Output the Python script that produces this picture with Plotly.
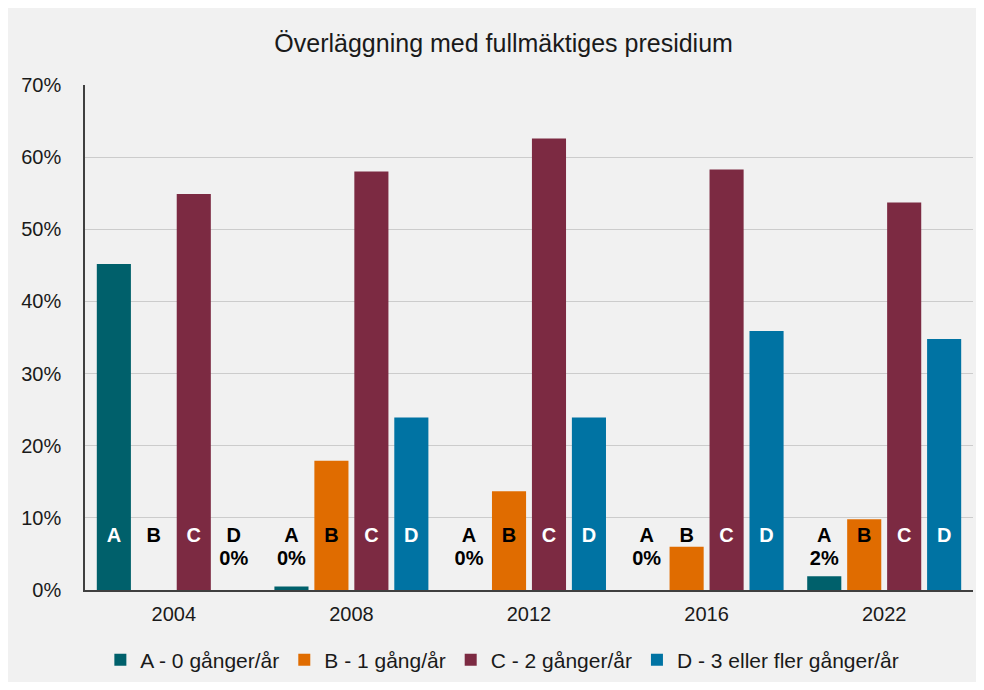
import plotly.graph_objects as go

years = ["2004", "2008", "2012", "2016", "2022"]
series_names = ["A - 0 gånger/år", "B - 1 gång/år", "C - 2 gånger/år", "D - 3 eller fler gånger/år"]
letters = ["A", "B", "C", "D"]
values_A = [45.2, 0.5, 0.0, 0.0, 1.9]
values_B = [0.0, 17.9, 13.7, 6.0, 9.8]
values_C = [54.9, 58.0, 62.6, 58.3, 53.7]
values_D = [0.0, 23.9, 23.9, 35.9, 34.8]
# percent labels shown under the letter ("" = no label)
pct_A = ["", "0%", "0%", "0%", "2%"]
pct_B = ["", "", "", "", ""]
pct_C = ["", "", "", "", ""]
pct_D = ["0%", "", "", "", ""]

colors = ["#00606B", "#E06C00", "#7C2A42", "#0073A3"]
all_vals = [values_A, values_B, values_C, values_D]
all_pcts = [pct_A, pct_B, pct_C, pct_D]

pitch = 0.225
width = 0.192
letter_y = 7.35
pct_y = 4.1

fig = go.Figure()
font_family = "Liberation Sans, Arial, sans-serif"

for k in range(4):
    xs = [i + (k - 1.5) * pitch for i in range(len(years))]
    fig.add_trace(go.Bar(
        x=xs, y=all_vals[k], width=width, name=series_names[k],
        marker=dict(color=colors[k], line=dict(width=0)),
        hoverinfo="y"))

for k in range(4):
    xs = [i + (k - 1.5) * pitch for i in range(len(years))]
    txt_colors = []
    for i in range(len(years)):
        v = all_vals[k][i]
        if k == 1 or v < letter_y:
            txt_colors.append("black")
        else:
            txt_colors.append("white")
    fig.add_trace(go.Scatter(
        x=xs, y=[letter_y] * len(xs), mode="text", text=[letters[k]] * len(xs),
        textfont=dict(family=font_family, size=20, color=txt_colors, weight="bold"),
        showlegend=False, hoverinfo="skip"))
    fig.add_trace(go.Scatter(
        x=xs, y=[pct_y] * len(xs), mode="text", text=all_pcts[k],
        textfont=dict(family=font_family, size=20, color="black", weight="bold"),
        showlegend=False, hoverinfo="skip"))

fig.update_layout(
    width=968, height=674,
    barmode="overlay",
    paper_bgcolor="#f1f1f1",
    plot_bgcolor="rgba(0,0,0,0)",
    margin=dict(l=77, r=3, t=77, b=92, autoexpand=False),
    font=dict(family=font_family, color="#1a1a1a"),
    title=dict(text="Överläggning med fullmäktiges presidium", x=0.512, xref="container",
               y=0.948, yref="container", xanchor="center", yanchor="middle",
               font=dict(size=25, color="#1a1a1a")),
    xaxis=dict(tickmode="array", tickvals=list(range(len(years))), ticktext=years,
               range=[-0.5, len(years) - 0.5], showgrid=False, zeroline=False,
               showline=True, linecolor="#404040", linewidth=1.5,
               ticks="", ticklabelstandoff=5, tickfont=dict(size=20, color="#1a1a1a")),
    yaxis=dict(range=[0, 70], dtick=10, ticksuffix="%", showgrid=True,
               gridcolor="#cccccc", gridwidth=1, zeroline=False,
               showline=True, linecolor="#404040", linewidth=1.5,
               ticks="", ticklabelstandoff=18, tickfont=dict(size=20, color="#1a1a1a")),
    legend=dict(orientation="h", x=0.47, xanchor="center", y=-0.139, yanchor="middle",
                font=dict(size=21, color="#1a1a1a"), bgcolor="rgba(0,0,0,0)",
                itemwidth=30, traceorder="normal"),
)

fig.write_html("out.html")
